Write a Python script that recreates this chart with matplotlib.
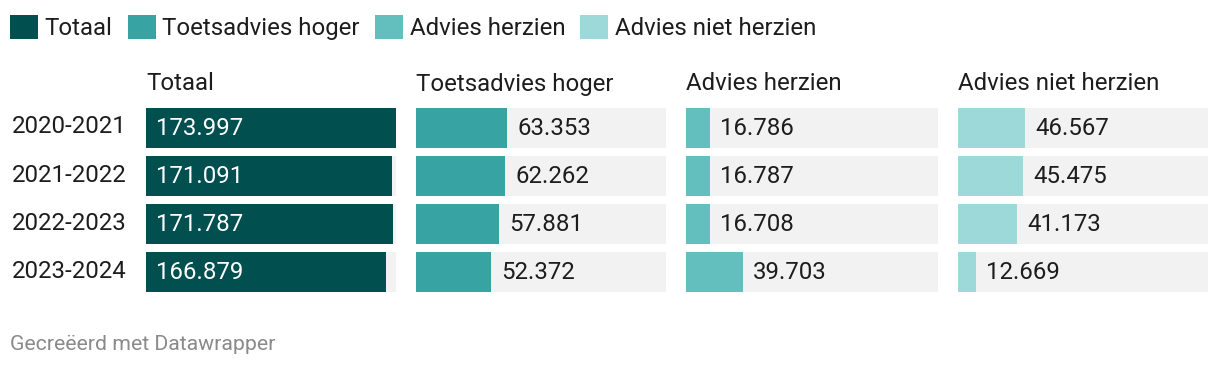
import matplotlib
matplotlib.use("Agg")
import matplotlib.pyplot as plt
from matplotlib.patches import Patch

plt.rcParams['font.family'] = ['Roboto', 'DejaVu Sans']

years = ["2020-2021", "2021-2022", "2022-2023", "2023-2024"]
series_names = ["Totaal", "Toetsadvies hoger", "Advies herzien", "Advies niet herzien"]
totaal = [173997, 171091, 171787, 166879]
toetsadvies_hoger = [63353, 62262, 57881, 52372]
advies_herzien = [16786, 16787, 16708, 39703]
advies_niet_herzien = [46567, 45475, 41173, 12669]
series = [totaal, toetsadvies_hoger, advies_herzien, advies_niet_herzien]
colors = ["#014f4f", "#37a3a3", "#63bebe", "#9cd9d8"]

W, H = 1220, 368
fig = plt.figure(figsize=(W / 100, H / 100), dpi=100)

def fmt(v):
    return f"{v:,}".replace(",", ".")

vmax = max(totaal)
panel_left = [146, 416, 686, 958]
panel_w = [250, 250, 252, 250]
top, bottom = 108, 292
fs = 17.3
text_col = "#1d1d1d"

for i, (name, vals, col) in enumerate(zip(series_names, series, colors)):
    x0 = panel_left[i]
    ax = fig.add_axes([x0 / W, 1 - bottom / H, panel_w[i] / W, (bottom - top) / H])
    ypos = list(range(len(years)))
    ax.barh(ypos, [vmax * panel_w[i] / 250] * len(years), height=40 / 48, color="#f2f2f2", lw=0)
    ax.barh(ypos, vals, height=40 / 48, color=col, lw=0)
    ax.set_xlim(0, vmax * panel_w[i] / 250)
    ax.set_ylim(3 + 20 / 48, -20 / 48)
    ax.axis("off")
    off = 10 / 250 * vmax
    for y, v in zip(ypos, vals):
        if i == 0:
            ax.text(off, y + 0.02, fmt(v), color="white", fontsize=fs, va="center", ha="left")
        else:
            ax.text(v + off, y + 0.02, fmt(v), color=text_col, fontsize=fs, va="center", ha="left")
    fig.text(x0 / W, 1 - 84 / H, name, fontsize=fs, color=text_col, va="center", ha="left")

for j, yr in enumerate(years):
    fig.text(12 / W, 1 - (127 + 48 * j) / H, yr, fontsize=fs, color=text_col, va="center", ha="left")

handles = [Patch(facecolor=c, edgecolor="none") for c in colors]
fig.legend(handles, series_names, loc="upper left", bbox_to_anchor=(10 / W, 1 - 15 / H),
           ncol=4, frameon=False, fontsize=fs, handlelength=1.17, handleheight=1.17,
           handletextpad=0.28, columnspacing=0.62, borderpad=0, borderaxespad=0,
           labelcolor=text_col)

fig.text(10 / W, 1 - 344 / H, "Gecreëerd met Datawrapper", fontsize=15.3, color="#8a8a8a",
         va="center", ha="left")

fig.savefig("out.png", dpi=100)
